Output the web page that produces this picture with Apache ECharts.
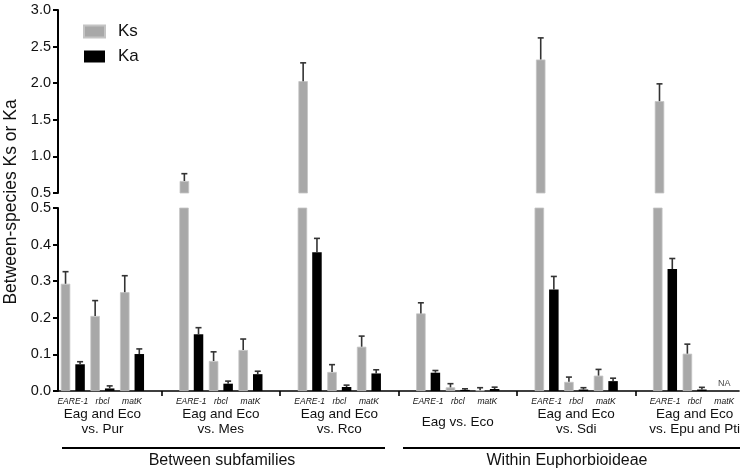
<!DOCTYPE html>
<html>
<head>
<meta charset="utf-8">
<script src="https://cdn.jsdelivr.net/npm/echarts@6/dist/echarts.min.js"></script>
<style>
  html, body { margin: 0; padding: 0; background: #fff; }
  #main { width: 743px; height: 474px; }
</style>
</head>
<body>
<div id="main"></div>
<script>
// genes inside each comparison, and the comparisons
const genes = ['EARE-1', 'rbcl', 'matK'];
const groups = [
  'Eag and Eco\nvs. Pur',
  'Eag and Eco\nvs. Mes',
  'Eag and Eco\nvs. Rco',
  'Eag vs. Eco',
  'Eag and Eco\nvs. Sdi',
  'Eag and Eco\nvs. Epu and Pti'
];
// values per group x gene, null = NA
const ksMean = [0.293, 0.205, 0.270, 0.664, 0.082, 0.112, 2.028, 0.052, 0.121,
                0.212, 0.010, 0.002, 2.324, 0.025, 0.042, 1.755, 0.102, null];
const ksErr  = [0.033, 0.042, 0.045, 0.100, 0.025, 0.030, 0.250, 0.020, 0.029,
                0.029, 0.010, 0.007, 0.295, 0.013, 0.017, 0.236, 0.026, null];
const kaMean = [0.073, 0.007, 0.101, 0.155, 0.020, 0.046, 0.379, 0.011, 0.048,
                0.050, 0.003, 0.0055, 0.277, 0.004, 0.027, 0.333, 0.004, null];
const kaErr  = [0.007, 0.007, 0.014, 0.018, 0.007, 0.008, 0.038, 0.005, 0.010,
                0.006, 0.003, 0.005, 0.036, 0.005, 0.008, 0.029, 0.006, null];
// y tick labels of the broken axis
const upperTicks = [0.5, 1.0, 1.5, 2.0, 2.5, 3.0];
const lowerTicks = [0.0, 0.1, 0.2, 0.3, 0.4, 0.5];

const FONT = 'Liberation Sans, Arial, sans-serif';
const ksColor = '#a8a8a8';
const kaColor = '#000000';
const errColor = '#333333';
const barW = 9.5;
const barGap = 0.53;
const barShift = barW * (1 + barGap) / 2;
const breakAt = lowerTicks[lowerTicks.length - 1];

// build category slots: 3 genes per group + an empty spacer between groups
const cats = [], groupLabels = [], spacer = [], slotOf = [];
groups.forEach((g, gi) => {
  genes.forEach((gn, k) => {
    slotOf.push(cats.length);
    cats.push(gn);
    groupLabels.push(k === 1 ? g : '');
    spacer.push(false);
  });
  if (gi < groups.length - 1) {
    cats.push('');
    groupLabels.push('');
    spacer.push(true);
  }
});

function toSlots(arr, keep) {
  const out = cats.map(() => '-');
  arr.forEach((v, i) => { if (v !== null && keep(v)) out[slotOf[i]] = v; });
  return out;
}

function errData(mean, err, side, keep) {
  const out = [];
  mean.forEach((v, i) => {
    if (v !== null && keep(v)) out.push([slotOf[i], v, err[i], side]);
  });
  return out;
}

const naData = [];
ksMean.forEach((v, i) => { if (v === null) naData.push([slotOf[i], 0]); });

function errRender(params, api) {
  const x = api.value(0), v = api.value(1), e = api.value(2), side = api.value(3);
  const a = api.coord([x, v]);
  const b = api.coord([x, v + e]);
  const cx = a[0] + side * barShift;
  const st = { stroke: errColor, lineWidth: 1.6 };
  return {
    type: 'group',
    children: [
      { type: 'line', shape: { x1: cx, y1: a[1], x2: cx, y2: b[1] }, style: st },
      { type: 'line', shape: { x1: cx - 3, y1: b[1], x2: cx + 3, y2: b[1] }, style: st }
    ]
  };
}

const yAxisCommon = {
  type: 'value',
  splitLine: { show: false },
  axisLine: { show: true, lineStyle: { color: '#000', width: 2 } },
  axisTick: { show: true, length: 5, lineStyle: { color: '#000', width: 2 } },
  axisLabel: { color: '#111', fontSize: 14.5, fontFamily: FONT, margin: 7,
    formatter: v => v.toFixed(1) }
};

const chart = echarts.init(document.getElementById('main'));
chart.setOption({
  animation: false,
  backgroundColor: '#fff',
  textStyle: { fontFamily: FONT },
  legend: {
    data: ['Ks', 'Ka'],
    orient: 'vertical',
    left: 83, top: 23,
    itemWidth: 21, itemHeight: 12, itemGap: 8,
    padding: 0,
    icon: 'rect',
    textStyle: { fontSize: 17, color: '#111', fontFamily: FONT, padding: [0, 0, 0, 8] }
  },
  grid: [
    { left: 58, right: 2, top: 10, height: 183 },
    { left: 58, right: 2, top: 208, height: 183 }
  ],
  xAxis: [
    { type: 'category', gridIndex: 0, data: cats, show: false },
    {
      type: 'category', gridIndex: 1, data: cats, position: 'bottom',
      axisLine: { show: true, lineStyle: { color: '#000', width: 1.6 } },
      axisTick: { show: true, alignWithLabel: true, length: 5,
        interval: (i) => spacer[i], lineStyle: { color: '#000', width: 1.6 } },
      axisLabel: { interval: 0, fontSize: 8.5, fontStyle: 'italic', color: '#111',
        fontFamily: FONT, margin: 6 }
    },
    {
      type: 'category', gridIndex: 1, data: groupLabels, position: 'bottom',
      axisLine: { show: false }, axisTick: { show: false },
      axisLabel: { interval: 0, fontSize: 13.5, color: '#111', fontFamily: FONT,
        lineHeight: 15, margin: 31, verticalAlign: 'middle', align: 'center' }
    }
  ],
  yAxis: [
    Object.assign({}, yAxisCommon, { gridIndex: 0, min: upperTicks[0],
      max: upperTicks[upperTicks.length - 1], interval: upperTicks[1] - upperTicks[0] }),
    Object.assign({}, yAxisCommon, { gridIndex: 1, min: lowerTicks[0],
      max: breakAt, interval: lowerTicks[1] - lowerTicks[0] })
  ],
  series: [
    { name: 'Ks', type: 'bar', xAxisIndex: 0, yAxisIndex: 0, barWidth: barW,
      barGap: (barGap * 100) + '%', data: toSlots(ksMean, v => v > breakAt),
      itemStyle: { color: ksColor, borderColor: '#c4c4c4', borderWidth: 0.8 } },
    { name: 'Ka', type: 'bar', xAxisIndex: 0, yAxisIndex: 0, barWidth: barW,
      barGap: (barGap * 100) + '%', data: toSlots(kaMean, v => v > breakAt),
      itemStyle: { color: kaColor } },
    { name: 'Ks', type: 'bar', xAxisIndex: 1, yAxisIndex: 1, barWidth: barW,
      barGap: (barGap * 100) + '%', data: toSlots(ksMean, () => true),
      itemStyle: { color: ksColor, borderColor: '#c4c4c4', borderWidth: 0.8 } },
    { name: 'Ka', type: 'bar', xAxisIndex: 1, yAxisIndex: 1, barWidth: barW,
      barGap: (barGap * 100) + '%', data: toSlots(kaMean, () => true),
      itemStyle: { color: kaColor } },
    { type: 'custom', xAxisIndex: 0, yAxisIndex: 0, renderItem: errRender, clip: true,
      data: errData(ksMean, ksErr, -1, v => v > breakAt), z: 3 },
    { type: 'custom', xAxisIndex: 1, yAxisIndex: 1, renderItem: errRender, clip: true,
      data: errData(ksMean, ksErr, -1, v => v < breakAt)
        .concat(errData(kaMean, kaErr, 1, v => v < breakAt)), z: 3 },
    { type: 'scatter', xAxisIndex: 1, yAxisIndex: 1, data: naData, symbolSize: 0,
      label: { show: true, formatter: 'NA', position: 'top', distance: 3,
        fontSize: 9, color: '#111', fontFamily: FONT } }
  ],
  graphic: [
    { type: 'text', x: 11, y: 202, rotation: Math.PI / 2,
      style: { text: 'Between-species Ks or Ka', fontSize: 17.5, fontFamily: FONT,
        fill: '#111', align: 'center', verticalAlign: 'middle' } },
    { type: 'line', shape: { x1: 62, y1: 448, x2: 385, y2: 448 },
      style: { stroke: '#000', lineWidth: 2 } },
    { type: 'line', shape: { x1: 403, y1: 448, x2: 740, y2: 448 },
      style: { stroke: '#000', lineWidth: 2 } },
    { type: 'text', x: 222, y: 461,
      style: { text: 'Between subfamilies', fontSize: 16, fontFamily: FONT,
        fill: '#111', align: 'center', verticalAlign: 'middle' } },
    { type: 'text', x: 567, y: 461,
      style: { text: 'Within Euphorbioideae', fontSize: 16, fontFamily: FONT,
        fill: '#111', align: 'center', verticalAlign: 'middle' } }
  ]
});
</script>
</body>
</html>
